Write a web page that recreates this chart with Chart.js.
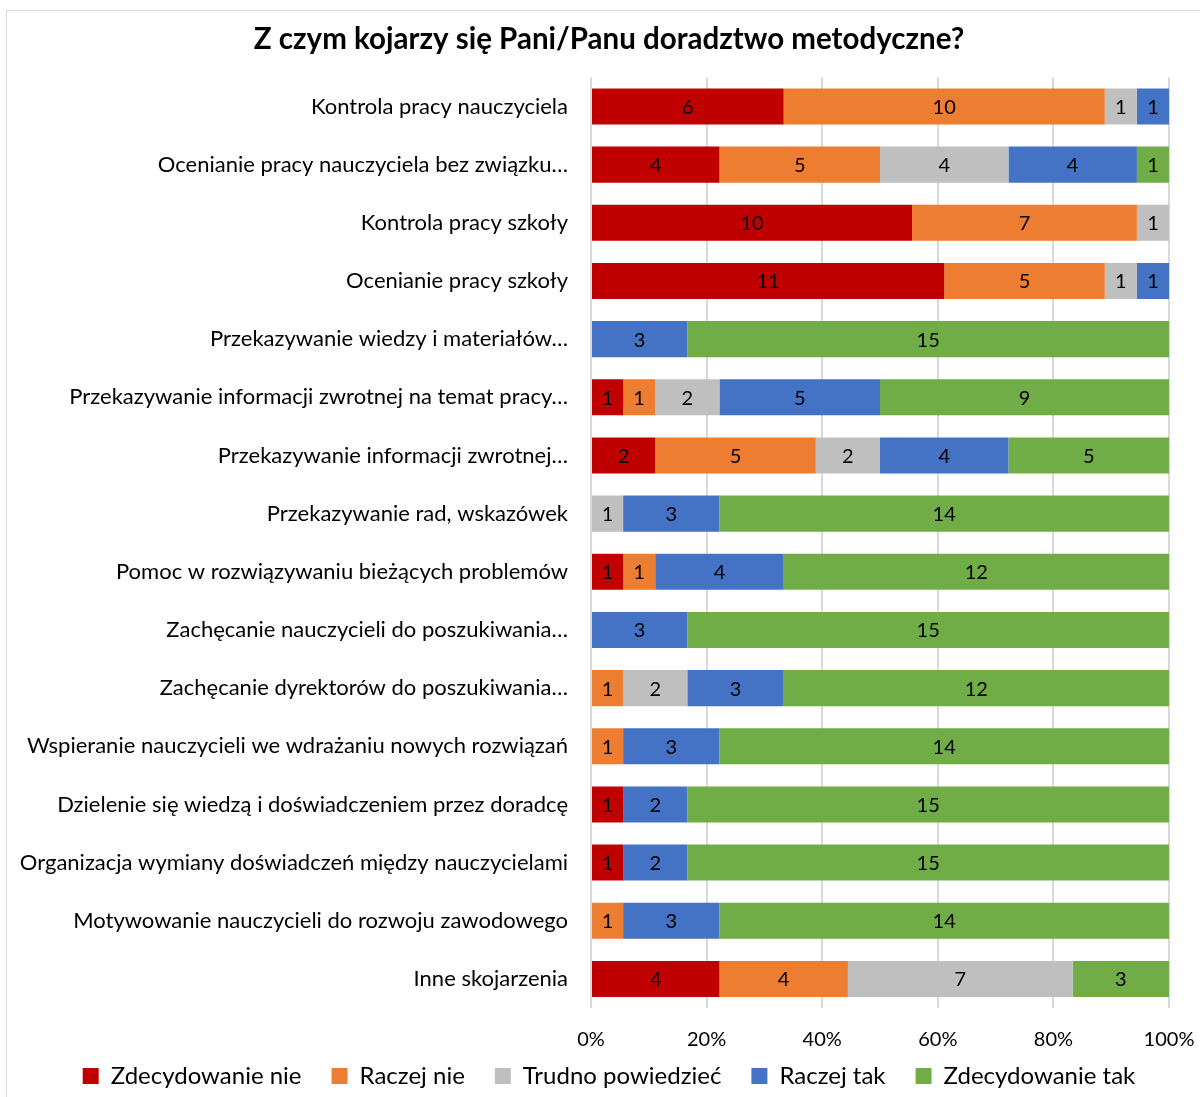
<!DOCTYPE html>
<html>
<head>
<meta charset="utf-8">
<script src="https://cdn.jsdelivr.net/npm/chart.js@4.4.1/dist/chart.umd.min.js"></script>
<style>
  html, body { margin: 0; padding: 0; background: #fff; overflow: hidden; }
  #frame { position: absolute; left: 6px; top: 10px; width: 1300px; height: 1200px; border: 1px solid #d9d9d9; }
  #wrap { position: absolute; left: 0; top: 0; width: 1200px; height: 1098px; }
</style>
</head>
<body>
<div id="frame"></div>
<div id="wrap"><canvas id="wykres"></canvas></div>
<script>
const kategorie = [
  "Kontrola pracy nauczyciela",
  "Ocenianie pracy nauczyciela bez związku…",
  "Kontrola pracy szkoły",
  "Ocenianie pracy szkoły",
  "Przekazywanie wiedzy i materiałów…",
  "Przekazywanie informacji zwrotnej na temat pracy…",
  "Przekazywanie informacji zwrotnej…",
  "Przekazywanie rad, wskazówek",
  "Pomoc w rozwiązywaniu bieżących problemów",
  "Zachęcanie nauczycieli do poszukiwania…",
  "Zachęcanie dyrektorów do poszukiwania…",
  "Wspieranie nauczycieli we wdrażaniu nowych rozwiązań",
  "Dzielenie się wiedzą i doświadczeniem przez doradcę",
  "Organizacja wymiany doświadczeń między nauczycielami",
  "Motywowanie nauczycieli do rozwoju zawodowego",
  "Inne skojarzenia"
];

const zdecydowanieNie = [6, 4, 10, 11, 0, 1, 2, 0, 1, 0, 0, 0, 1, 1, 0, 4];
const raczejNie       = [10, 5, 7, 5, 0, 1, 5, 0, 1, 0, 1, 1, 0, 0, 1, 4];
const trudno          = [1, 4, 1, 1, 0, 2, 2, 1, 0, 0, 2, 0, 0, 0, 0, 7];
const raczejTak       = [1, 4, 0, 1, 3, 5, 4, 3, 4, 3, 3, 3, 2, 2, 3, 0];
const zdecydowanieTak = [0, 1, 0, 0, 15, 9, 5, 14, 12, 15, 12, 14, 15, 15, 14, 3];

const tickiX = [0, 20, 40, 60, 80, 100];

const serie = [
  { nazwa: "Zdecydowanie nie", dane: zdecydowanieNie, kolor: "#C00000" },
  { nazwa: "Raczej nie", dane: raczejNie, kolor: "#ED7D31" },
  { nazwa: "Trudno powiedzieć", dane: trudno, kolor: "#BFBFBF" },
  { nazwa: "Raczej tak", dane: raczejTak, kolor: "#4472C4" },
  { nazwa: "Zdecydowanie tak", dane: zdecydowanieTak, kolor: "#70AD47" }
];

const sumy = kategorie.map((_, i) => serie.reduce((s, d) => s + d.dane[i], 0));

// liczby na środku słupków + podpisy osi X (przez skalę wykresu)
const etykiety = {
  id: "etykiety",
  afterDatasetsDraw(chart) {
    const ctx = chart.ctx;
    ctx.save();
    ctx.font = "20px Lato";
    ctx.fillStyle = "#000";
    ctx.textAlign = "center";
    ctx.textBaseline = "middle";
    chart.data.datasets.forEach((ds, di) => {
      chart.getDatasetMeta(di).data.forEach((bar, i) => {
        const n = ds.liczby[i];
        if (!n) return;
        const p = bar.getProps(["x", "y", "base"], true);
        ctx.fillText(n, (p.x + p.base) / 2, p.y + 1);
      });
    });
    const sx = chart.scales.x;
    tickiX.forEach(v => {
      ctx.fillText(v + "%", sx.getPixelForValue(v), chart.chartArea.bottom + 32);
    });
    ctx.restore();
  }
};

new Chart(document.getElementById("wykres"), {
  type: "bar",
  data: {
    labels: kategorie,
    datasets: serie.map(s => ({
      label: s.nazwa,
      data: s.dane.map((v, i) => v / sumy[i] * 100),
      liczby: s.dane,
      backgroundColor: s.kolor,
      borderWidth: 0,
      barPercentage: 0.62,
      categoryPercentage: 1
    }))
  },
  options: {
    indexAxis: "y",
    responsive: true,
    maintainAspectRatio: false,
    animation: false,
    layout: { padding: { left: 49, right: 31, top: 0, bottom: 0 } },
    scales: {
      x: {
        stacked: true,
        min: 0,
        max: 100,
        afterBuildTicks: sc => { sc.ticks = tickiX.map(v => ({ value: v })); },
        afterFit: sc => { sc.height = 26; sc.paddingLeft = 0; sc.paddingRight = 0; },
        grid: { color: "#D9D9D9", lineWidth: 2, drawTicks: false },
        border: { display: false },
        ticks: { display: false }
      },
      y: {
        stacked: true,
        afterFit: sc => {
          sc.width = 542;
          sc._computeLabelArea = () => null; // długie etykiety wychodzą poza oś
        },
        grid: { display: false, drawTicks: false },
        border: { display: false },
        ticks: { padding: 23, color: "#000", font: { family: "Lato", size: 22 }, autoSkip: false }
      }
    },
    plugins: {
      title: {
        display: true,
        text: "Z czym kojarzy się Pani/Panu doradztwo metodyczne?",
        color: "#000",
        font: { family: "Lato", size: 29.5, weight: "bold" },
        padding: { top: 22, bottom: 20 }
      },
      legend: {
        position: "bottom",
        labels: {
          color: "#000",
          font: { family: "Lato", size: 24 },
          boxWidth: 16,
          boxHeight: 16,
          padding: 30
        }
      },
      tooltip: { callbacks: { label: c => c.dataset.label + ": " + c.dataset.liczby[c.dataIndex] } }
    }
  },
  plugins: [etykiety]
});
</script>
</body>
</html>
